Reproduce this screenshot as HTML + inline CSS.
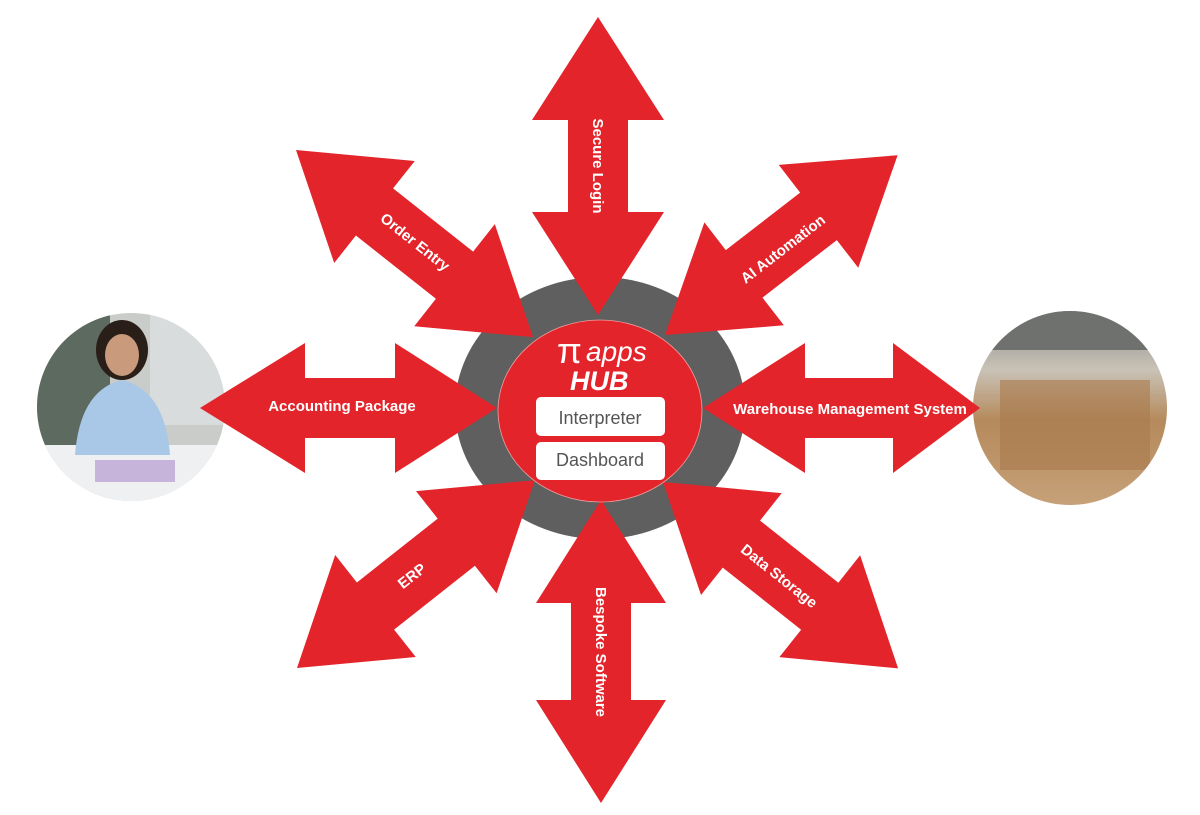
<!DOCTYPE html>
<html><head><meta charset="utf-8"><style>
html,body{margin:0;padding:0;background:#fff;}
svg{display:block;}
text{font-family:"Liberation Sans",sans-serif;}
</style></head><body>
<svg width="1200" height="815" viewBox="0 0 1200 815" xmlns="http://www.w3.org/2000/svg">
<defs>
<clipPath id="cl"><circle cx="131" cy="407" r="94"/></clipPath>
<clipPath id="cr"><circle cx="1070" cy="408" r="97"/></clipPath>
<linearGradient id="wh" x1="0" y1="0" x2="0" y2="1">
<stop offset="0" stop-color="#8a8c8a"/><stop offset="0.3" stop-color="#c9c2b6"/><stop offset="0.55" stop-color="#b58a5c"/><stop offset="1" stop-color="#c7a27a"/></linearGradient>
</defs>
<!-- left photo -->
<g clip-path="url(#cl)">
<rect x="30" y="305" width="200" height="200" fill="#c9ccc8"/>
<rect x="30" y="305" width="80" height="140" fill="#5d6a60"/>
<rect x="150" y="305" width="80" height="120" fill="#d8dcdc"/>
<rect x="30" y="445" width="200" height="60" fill="#eef0f2"/>
<ellipse cx="122" cy="350" rx="26" ry="30" fill="#2a1e18"/>
<ellipse cx="122" cy="355" rx="17" ry="21" fill="#c99a7c"/>
<path d="M75 455 Q80 390 122 380 Q165 390 170 455 Z" fill="#a9c7e6"/>
<rect x="95" y="460" width="80" height="22" fill="#b59ad0" opacity="0.7"/>
</g>
<!-- right photo -->
<g clip-path="url(#cr)">
<rect x="970" y="310" width="200" height="200" fill="url(#wh)"/>
<rect x="970" y="310" width="200" height="40" fill="#6f716f"/>
<rect x="1000" y="380" width="150" height="90" fill="#a87a4c" opacity="0.6"/>
</g>
<!-- gray ring -->
<ellipse cx="600" cy="408" rx="145" ry="131" fill="#5f5f5f"/>
<g fill="#e3242b">
<g transform="translate(598,17) rotate(90)"><polygon points="0,0 103,-66 103,-30 195,-30 195,-66 298,0 195,66 195,30 103,30 103,66"/></g>
<g transform="translate(601,500) rotate(90)"><polygon points="0,0 103,-65 103,-30 200,-30 200,-65 303,0 200,65 200,30 103,30 103,65"/></g>
<g transform="translate(200,408)"><polygon points="0,0 105,-65 105,-30 195,-30 195,-65 297,0 195,65 195,30 105,30 105,65"/></g>
<g transform="translate(703,408)"><polygon points="0,0 102,-65 102,-30 190,-30 190,-65 277,0 190,65 190,30 102,30 102,65"/></g>
<g transform="translate(296,150) rotate(38.3)"><polygon points="0,0 100,-65 100,-30 202,-30 202,-65 302,0 202,65 202,30 100,30 100,65"/></g>
<g transform="translate(665,335) rotate(-37.7)"><polygon points="0,0 100,-65 100,-30 194,-30 194,-65 294,0 194,65 194,30 100,30 100,65"/></g>
<g transform="translate(663,482) rotate(38.4)"><polygon points="0,0 100,-65 100,-30 200,-30 200,-65 300,0 200,65 200,30 100,30 100,65"/></g>
<g transform="translate(297,668) rotate(-38.3)"><polygon points="0,0 100,-65 100,-30 203,-30 203,-65 303,0 203,65 203,30 100,30 100,65"/></g>
</g>
<ellipse cx="600" cy="411" rx="102" ry="91" fill="#e3242b" stroke="#f0a0a0" stroke-width="0.8"/>
<text x="557" y="363" fill="#fff" font-family="Liberation Serif,serif" font-size="36">π</text>
<text x="586" y="361" fill="#fff" font-size="28" font-style="italic">apps</text>
<text x="570" y="390" fill="#fff" font-size="27" font-style="italic" font-weight="bold">HUB</text>
<rect x="536" y="397" width="129" height="39" rx="5" fill="#fff"/>
<rect x="536" y="442" width="129" height="38" rx="5" fill="#fff"/>
<text x="600" y="424" fill="#555" font-size="18" text-anchor="middle">Interpreter</text>
<text x="600" y="466" fill="#555" font-size="18" text-anchor="middle">Dashboard</text>
<g fill="#fff" font-size="15" font-weight="bold" text-anchor="middle">
<text x="342" y="411">Accounting Package</text>
<text x="850" y="414">Warehouse Management System</text>
<text transform="translate(593,166) rotate(90)">Secure Login</text>
<text transform="translate(596,652) rotate(90)">Bespoke Software</text>
<text transform="translate(412,246) rotate(38.3)">Order Entry</text>
<text transform="translate(786,253) rotate(-37.7)">AI Automation</text>
<text transform="translate(776,580) rotate(38.4)">Data Storage</text>
<text transform="translate(415,580) rotate(-38.3)">ERP</text>
</g>
</svg>
</body></html>
